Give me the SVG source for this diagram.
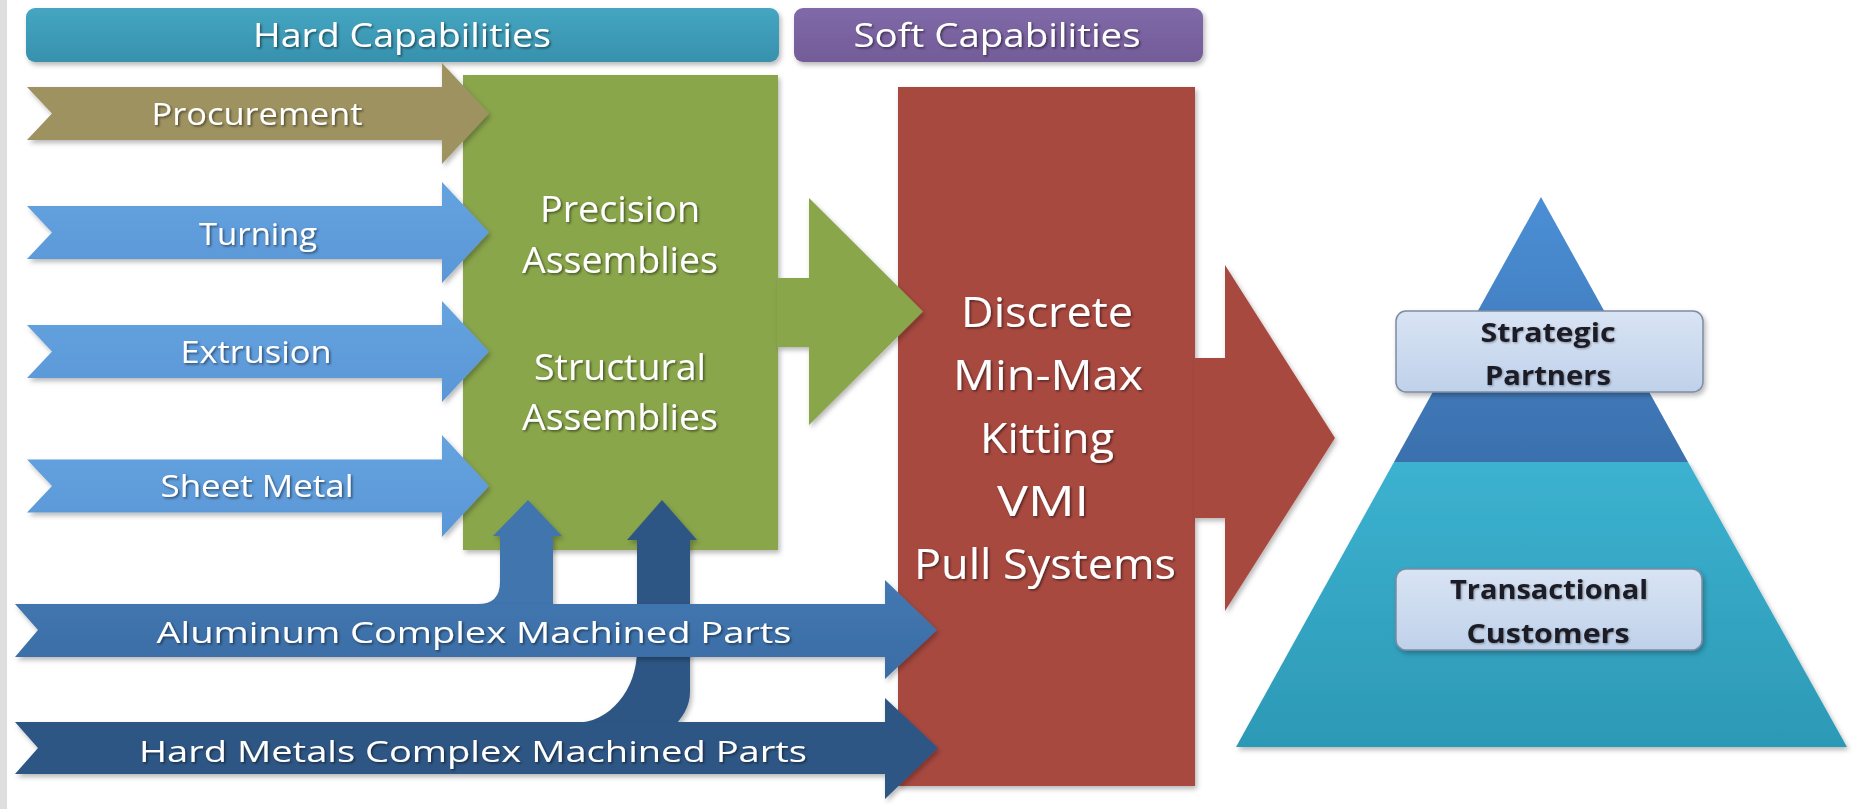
<svg xmlns="http://www.w3.org/2000/svg" width="1860" height="809" viewBox="0 0 1860 809">
  <defs>
    <style>
      .t { font-family: "Open Sans", "Liberation Sans", sans-serif; fill: #ffffff; text-anchor: middle; filter: url(#tshadow); }
      .lbl { font-family: "Open Sans", "Liberation Sans", sans-serif; fill: #1c1c28; text-anchor: middle; font-weight: 700; filter: url(#lshadow); }
      .hdr { font-size: 33px; }
      .arr { font-size: 31px; }
      .grn { font-size: 36px; }
      .red { font-size: 42px; }
      .bot { font-size: 30px; }
      .box { font-size: 27px; }
    </style>
    <filter id="shadow" x="-10%" y="-10%" width="130%" height="130%">
      <feDropShadow dx="2" dy="3" stdDeviation="2.5" flood-color="#000" flood-opacity="0.28"/>
    </filter>
    <filter id="tshadow" x="-5%" y="-20%" width="115%" height="150%">
      <feDropShadow dx="1.5" dy="1.5" stdDeviation="1" flood-color="#000" flood-opacity="0.5"/>
    </filter>
    <filter id="lshadow" x="-5%" y="-20%" width="115%" height="150%">
      <feDropShadow dx="1" dy="1" stdDeviation="0.8" flood-color="#000" flood-opacity="0.35"/>
    </filter>
    <linearGradient id="gHard" x1="0" y1="0" x2="0" y2="1">
      <stop offset="0" stop-color="#45a6c2"/><stop offset="1" stop-color="#3791ad"/>
    </linearGradient>
    <linearGradient id="gSoft" x1="0" y1="0" x2="0" y2="1">
      <stop offset="0" stop-color="#8069a8"/><stop offset="1" stop-color="#735c98"/>
    </linearGradient>
    <linearGradient id="gLight" x1="0" y1="0" x2="0" y2="1">
      <stop offset="0" stop-color="#65a2e0"/><stop offset="1" stop-color="#5a97d6"/>
    </linearGradient>
    <linearGradient id="gAlu" x1="0" y1="0" x2="0" y2="1">
      <stop offset="0" stop-color="#4378b2"/><stop offset="1" stop-color="#3a6ca4"/>
    </linearGradient>
    <linearGradient id="gPyrTop" x1="0" y1="0" x2="0" y2="1">
      <stop offset="0" stop-color="#4b8fd6"/><stop offset="1" stop-color="#3b70ad"/>
    </linearGradient>
    <linearGradient id="gPyrBot" x1="0" y1="0" x2="0" y2="1">
      <stop offset="0" stop-color="#3cb2d0"/><stop offset="1" stop-color="#2c99b6"/>
    </linearGradient>
    <linearGradient id="gBox" x1="0" y1="0" x2="0" y2="1">
      <stop offset="0" stop-color="#d9e4f4"/><stop offset="1" stop-color="#bfd1ea"/>
    </linearGradient>
  </defs>

  <rect x="0" y="0" width="1860" height="809" fill="#ffffff"/>
  <rect x="0" y="0" width="7" height="809" fill="#dedede"/>

  <g id="hard-capabilities">
    <rect x="26" y="8" width="753" height="54" rx="9" fill="url(#gHard)" filter="url(#shadow)"/>
    <text class="t hdr" x="402" y="47" textLength="298" lengthAdjust="spacingAndGlyphs">Hard Capabilities</text>
  </g>
  <g id="soft-capabilities">
    <rect x="794" y="8" width="409" height="54" rx="9" fill="url(#gSoft)" filter="url(#shadow)"/>
    <text class="t hdr" x="997" y="47" textLength="287" lengthAdjust="spacingAndGlyphs">Soft Capabilities</text>
  </g>

  <g id="assemblies">
    <rect x="463" y="75" width="315" height="475" fill="#8aa64b" filter="url(#shadow)"/>
    <text class="t grn" x="620" y="222" textLength="160" lengthAdjust="spacingAndGlyphs">Precision</text>
    <text class="t grn" x="620" y="273" textLength="196" lengthAdjust="spacingAndGlyphs">Assemblies</text>
    <text class="t grn" x="620" y="380" textLength="172" lengthAdjust="spacingAndGlyphs">Structural</text>
    <text class="t grn" x="620" y="430" textLength="196" lengthAdjust="spacingAndGlyphs">Assemblies</text>
  </g>

  <g id="soft-services">
    <rect x="898" y="87" width="297" height="699" fill="#a84a40" filter="url(#shadow)"/>
  </g>

  <g id="pyramid">
    <path d="M 1236 747 L 1847 747 L 1688 462 L 1394 462 Z" fill="url(#gPyrBot)" filter="url(#shadow)"/>
    <path d="M 1541 197 L 1688 462 L 1394 462 Z" fill="url(#gPyrTop)"/>
  </g>

  <g id="connectors">
    <path d="M 777 278 L 809 278 L 809 198 L 923 311.5 L 809 425 L 809 347 L 777 347 Z" fill="#8aa64b" filter="url(#shadow)"/>
    <path d="M 1194 358 L 1225 358 L 1225 265 L 1335 438 L 1225 611 L 1225 518 L 1194 518 Z" fill="#a84a40" filter="url(#shadow)"/>
    <path d="M 662 500 L 697 540 L 690 540 L 690 692 Q 690 712 670 730 L 570 730 L 575 723 A 62 73 0 0 0 637 650 L 637 540 L 627 540 Z" fill="#2e5784" filter="url(#shadow)"/>
    <path d="M 528 500 L 562 536 L 553 536 L 553 612 L 478 612 L 478 604 Q 500 604 500 582 L 500 536 L 493 536 Z" fill="#3f74ae" filter="url(#shadow)"/>
  </g>

  <g id="soft-services-text">
    <text class="t red" x="1047" y="327" textLength="172" lengthAdjust="spacingAndGlyphs">Discrete</text>
    <text class="t red" x="1048" y="390" textLength="190" lengthAdjust="spacingAndGlyphs">Min-Max</text>
    <text class="t red" x="1047" y="453" textLength="134" lengthAdjust="spacingAndGlyphs">Kitting</text>
    <text class="t red" x="1043" y="516" textLength="92" lengthAdjust="spacingAndGlyphs">VMI</text>
    <text class="t red" x="1045" y="579" textLength="262" lengthAdjust="spacingAndGlyphs">Pull Systems</text>
  </g>

  <g id="procurement">
    <path d="M 27 87 L 442 87 L 442 63 L 489 113.5 L 442 164 L 442 140 L 27 140 L 52 113.5 Z" fill="#9e9260" filter="url(#shadow)"/>
    <text class="t arr" x="257" y="125" textLength="211" lengthAdjust="spacingAndGlyphs">Procurement</text>
  </g>
  <g id="turning">
    <path d="M 27 206 L 442 206 L 442 182 L 489 232.5 L 442 283 L 442 259 L 27 259 L 52 232.5 Z" fill="url(#gLight)" filter="url(#shadow)"/>
    <text class="t arr" x="258" y="245" textLength="118" lengthAdjust="spacingAndGlyphs">Turning</text>
  </g>
  <g id="extrusion">
    <path d="M 27 325 L 442 325 L 442 301 L 489 351.5 L 442 402 L 442 378 L 27 378 L 52 351.5 Z" fill="url(#gLight)" filter="url(#shadow)"/>
    <text class="t arr" x="256" y="363" textLength="151" lengthAdjust="spacingAndGlyphs">Extrusion</text>
  </g>
  <g id="sheet-metal">
    <path d="M 27 459.5 L 442 459.5 L 442 435 L 489 486 L 442 537 L 442 512.5 L 27 512.5 L 52 486 Z" fill="url(#gLight)" filter="url(#shadow)"/>
    <text class="t arr" x="257" y="497" textLength="193" lengthAdjust="spacingAndGlyphs">Sheet Metal</text>
  </g>

  <g id="aluminum-parts">
    <path d="M 15 604 L 885 604 L 885 580 L 937 630 L 885 679 L 885 657 L 15 657 L 38 630 Z" fill="url(#gAlu)" filter="url(#shadow)"/>
    <text class="t bot" x="474" y="643" textLength="635" lengthAdjust="spacingAndGlyphs">Aluminum Complex Machined Parts</text>
  </g>
  <g id="hard-metals-parts">
    <path d="M 15 722 L 885 722 L 885 698 L 938 748 L 885 799 L 885 774 L 15 774 L 38 748 Z" fill="#2e5784" filter="url(#shadow)"/>
    <text class="t bot" x="473" y="762" textLength="668" lengthAdjust="spacingAndGlyphs">Hard Metals Complex Machined Parts</text>
  </g>

  <g id="strategic-partners">
    <rect x="1396" y="311" width="307" height="81" rx="10" fill="url(#gBox)" stroke="#7d8ca3" stroke-width="1.5" filter="url(#shadow)"/>
    <text class="lbl box" x="1548" y="342" textLength="135" lengthAdjust="spacingAndGlyphs">Strategic</text>
    <text class="lbl box" x="1548" y="385" textLength="126" lengthAdjust="spacingAndGlyphs">Partners</text>
  </g>
  <g id="transactional-customers">
    <rect x="1396" y="569" width="306" height="81" rx="10" fill="url(#gBox)" stroke="#7d8ca3" stroke-width="1.5" filter="url(#shadow)"/>
    <text class="lbl box" x="1549" y="599" textLength="198" lengthAdjust="spacingAndGlyphs">Transactional</text>
    <text class="lbl box" x="1548" y="643" textLength="163" lengthAdjust="spacingAndGlyphs">Customers</text>
  </g>
</svg>
